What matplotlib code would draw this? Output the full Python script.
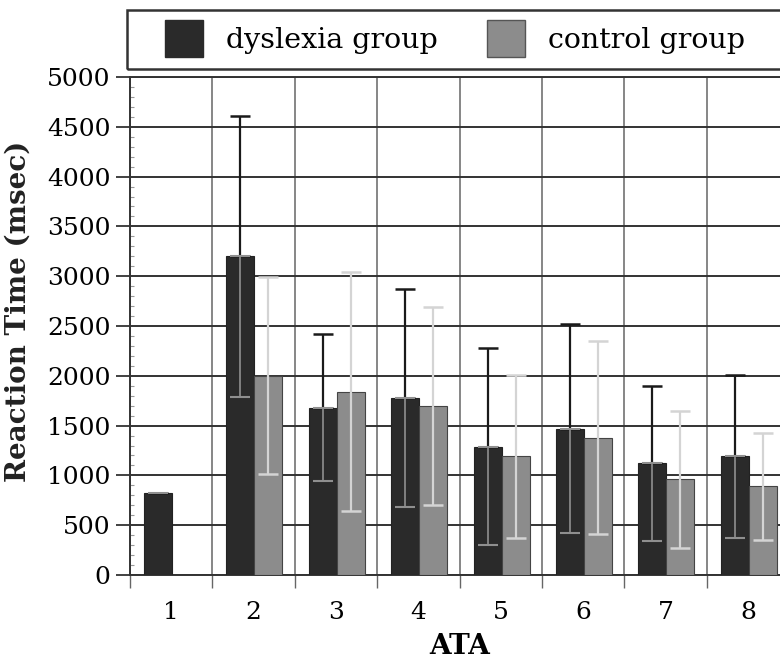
import numpy as np
import matplotlib.pyplot as plt
from matplotlib.patches import Patch, Rectangle

# reaction times per ATA item (msec)
ata = [1, 2, 3, 4, 5, 6, 7, 8]
dys_mean = [820, 3200, 1680, 1780, 1290, 1470, 1120, 1190]
dys_sd = [np.nan, 1410, 735, 1095, 990, 1050, 775, 815]
ctl_mean = [np.nan, 2000, 1840, 1700, 1190, 1380, 960, 890]
ctl_sd = [np.nan, 990, 1200, 995, 820, 970, 685, 540]
labels = ['dyslexia group', 'control group']

W, H = 780, 661
plt.rcParams['font.family'] = ['DejaVu Serif']
fig = plt.figure(figsize=(W / 100, H / 100), dpi=100)
ax = fig.add_axes([130 / W, 86 / H, 659 / W, 498 / H])

x = np.array(ata, dtype=float)
dys_c, ctl_c = '#2a2a2a', '#8c8c8c'
bw = 0.34
ax.bar(x - 0.16, dys_mean, bw, color=dys_c, edgecolor='#222222', lw=0.8, zorder=3)
ax.bar(x + 0.18, ctl_mean, bw, color=ctl_c, edgecolor='#444444', lw=0.8, zorder=3)

zero = np.zeros(len(ata))
# dyslexia error bars: dark above the bar, lighter inside it
ax.errorbar(x - 0.16, dys_mean, yerr=[zero, dys_sd], fmt='none', ecolor='#1a1a1a',
            elinewidth=1.6, capsize=7, capthick=1.8, zorder=4)
ax.errorbar(x - 0.16, dys_mean, yerr=[dys_sd, zero], fmt='none', ecolor='#8f8f8f',
            elinewidth=1.2, capsize=7, capthick=1.5, zorder=4)
# control error bars: light grey
ax.errorbar(x + 0.18, ctl_mean, yerr=ctl_sd, fmt='none', ecolor='#d4d4d4',
            elinewidth=1.6, capsize=7, capthick=1.8, zorder=4)

ax.set_xlim(0.5, 8.5)
ax.set_ylim(0, 5000)
ax.set_axisbelow(True)

ax.set_yticks(np.arange(0, 5001, 500))
ax.set_yticks(np.arange(0, 5001, 100), minor=True)
ax.tick_params(axis='y', which='major', direction='out', length=10, width=1.3,
               color='#333333', labelsize=18, pad=4)
ax.tick_params(axis='y', which='minor', direction='in', length=3, width=0.8, color='#999999')
ax.yaxis.grid(True, which='major', color='#333333', lw=1.4)

ax.set_xticks(np.arange(0.5, 8.6, 1.0))
ax.set_xticklabels([])
ax.set_xticks(x, minor=True)
ax.set_xticklabels([str(a) for a in ata], minor=True)
ax.tick_params(axis='x', which='major', direction='out', length=9, width=1.0, color='#666666')
ax.tick_params(axis='x', which='minor', length=0, labelsize=18, pad=19)
ax.xaxis.grid(True, which='major', color='#666666', lw=1.1)

for s in ['left', 'bottom', 'top']:
    ax.spines[s].set_color('#333333')
    ax.spines[s].set_linewidth(1.4)
ax.spines['right'].set_visible(False)

ax.set_xlabel('ATA', fontsize=20, fontweight='bold', labelpad=6)
fig.text(18 / W, 1 - 311 / H, 'Reaction Time (msec)', rotation=90, ha='center', va='center',
         fontsize=20, fontweight='bold', color='#222222')

# legend box running off the right edge
fig.patches.append(Rectangle((127 / W, 1 - 69 / H), 700 / W, 59 / H, transform=fig.transFigure,
                             fill=False, edgecolor='#333333', lw=1.8))
handles = [Patch(facecolor=dys_c, edgecolor=dys_c), Patch(facecolor=ctl_c, edgecolor='#555555')]
fig.legend(handles, labels, loc='upper left', bbox_to_anchor=(165 / W, 1 - 20 / H),
           ncol=2, frameon=False, fontsize=20.5, borderpad=0, borderaxespad=0,
           handlelength=1.33, handleheight=1.6, handletextpad=0.8, columnspacing=1.75)

fig.savefig('out.png', dpi=100)
